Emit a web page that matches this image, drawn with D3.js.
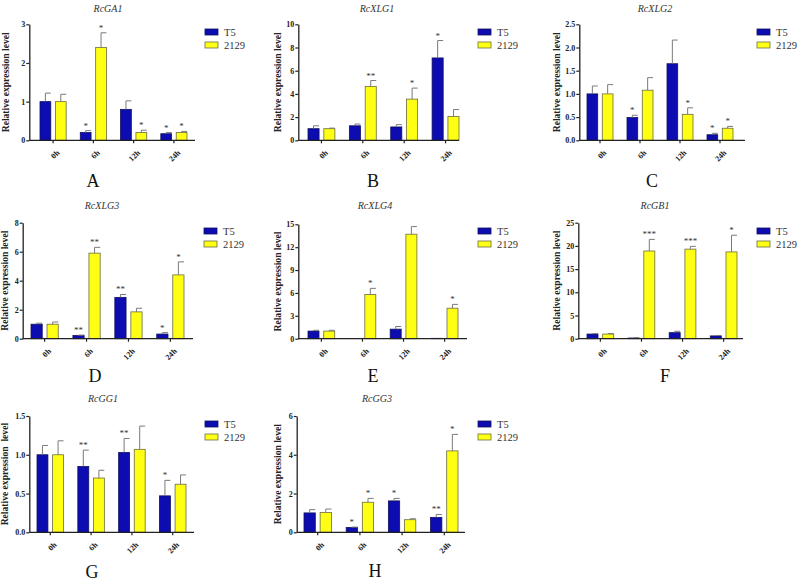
<!DOCTYPE html>
<html><head><meta charset="utf-8">
<script src="https://cdn.jsdelivr.net/npm/d3@7"></script>
<style>body{margin:0;background:#fff} svg{display:block}</style>
</head><body><svg id="c" width="798" height="581"></svg>
<script>
const times = ["0h","6h","12h","24h"];
const series = ["T5","2129"];
const genes = ["RcGA1","RcXLG1","RcXLG2","RcXLG3","RcXLG4","RcGB1","RcGG1","RcGG3"];
const letters = ["A","B","C","D","E","F","G","H"];
const t5Mean = [[1.0,0.2,0.8,0.17],[1.0,1.25,1.15,7.1],[1.0,0.49,1.65,0.12],[1.0,0.22,2.85,0.32],[1.0,0,1.25,0.05],[1.0,0.15,1.3,0.6],[1.0,0.85,1.03,0.47],[1.0,0.25,1.62,0.77]];
const t5Err = [[0.22,0.05,0.22,0.03],[0.25,0.15,0.2,1.5],[0.17,0.05,0.51,0.03],[0.07,0.03,0.2,0.1],[0.1,0,0.35,0],[0.1,0.05,0.3,0.1],[0.12,0.21,0.18,0.2],[0.17,0.02,0.13,0.15]];
const g2129Mean = [[1.0,2.4,0.2,0.2],[1.0,4.65,3.55,2.05],[1.0,1.08,0.56,0.26],[1.0,5.9,1.85,4.4],[1.0,5.8,13.7,4.0],[1.0,18.9,19.3,18.7],[1.0,0.7,1.07,0.62],[1.02,1.55,0.65,4.2]];
const g2129Err = [[0.19,0.38,0.06,0.03],[0.05,0.5,0.95,0.6],[0.2,0.27,0.14,0.04],[0.15,0.4,0.25,0.9],[0.1,0.8,1.0,0.5],[0.1,2.5,0.6,3.6],[0.18,0.1,0.3,0.12],[0.18,0.2,0.05,0.85]];
const t5Sig = [["","*","","*"],["","","","*"],["","*","","*"],["","**","**","*"],["","","",""],["","","",""],["","**","**","*"],["","*","*","**"]];
const g2129Sig = [["","*","*","*"],["","**","*",""],["","","*","*"],["","**","","*"],["","*","","*"],["","***","***","*"],["","","",""],["","*","","*"]];
const yTicks = [[0,1,2,3],[0,2,4,6,8,10],[0,0.5,1,1.5,2,2.5],[0,2,4,6,8],[0,3,6,9,12,15],[0,5,10,15,20,25],[0,0.5,1,1.5],[0,2,4,6]];
const yFormats = ["d","d",".1f","d","d","d",".1f","d"];
const yLabels = ["Relative expression level","Relative expression level","Relative expression level","Relative expression level","Relative expression level","Relative expression level","Relative expression  level","Relative expression level"];

// layout (positions only)
const layout = [
 {ax:29.3, axEnd:195, yTop:24.3, yBot:140.3, bL:40, bR:187, tX:108, tY:12, legX:205, legY:29, ylX:9, letX:93, letY:187},
 {ax:298.3, axEnd:459, yTop:24.3, yBot:140.3, bL:308, bR:459, tX:377, tY:12, legX:478, legY:29, ylX:281, letX:373, letY:187},
 {ax:579.3, axEnd:745, yTop:24.3, yBot:140.3, bL:587, bR:733, tX:655, tY:12, legX:757, legY:29, ylX:560, letX:652, letY:187},
 {ax:22.7, axEnd:193, yTop:222.7, yBot:338.7, bL:31, bR:184, tX:102, tY:209, legX:204, legY:228, ylX:8, letX:95, letY:382},
 {ax:298.3, axEnd:467, yTop:224.3, yBot:338.7, bL:308, bR:458, tX:375, tY:209, legX:478, legY:228, ylX:281, letX:373, letY:382},
 {ax:578.3, axEnd:743, yTop:222.7, yBot:338.7, bL:587, bR:737, tX:655, tY:209, legX:757, legY:228, ylX:560, letX:665, letY:382},
 {ax:29.3, axEnd:194, yTop:416, yBot:532.3, bL:37, bR:186, tX:103, tY:402, legX:205, legY:421, ylX:8, letX:92, letY:578},
 {ax:296.7, axEnd:465, yTop:416, yBot:532.3, bL:304, bR:458, tX:377, tY:402, legX:478, legY:421, ylX:281, letX:375, letY:577}
];

const colors = {"T5":"#0c0cb0","2129":"#ffff14"};
const strokes = {"T5":"#101060","2129":"#6b6b40"};
const serif = "'Liberation Serif','Times New Roman',serif";
const svg = d3.select("#c");

genes.forEach((g, i) => {
  const L = layout[i];
  const gEl = svg.append("g");
  const ticks = yTicks[i];
  const y = d3.scaleLinear().domain([0, ticks[ticks.length-1]]).range([L.yBot, L.yTop]);
  const x0 = d3.scaleBand().domain(times).range([L.bL, L.bR]).paddingInner(0.35).paddingOuter(0);
  const x1 = d3.scaleBand().domain(series).range([0, x0.bandwidth()]).paddingInner(0.3);

  const rows = [];
  times.forEach((t, j) => {
    rows.push({t, s:"T5", v:t5Mean[i][j], e:t5Err[i][j], sig:t5Sig[i][j]});
    rows.push({t, s:"2129", v:g2129Mean[i][j], e:g2129Err[i][j], sig:g2129Sig[i][j]});
  });

  gEl.selectAll("rect.bar").data(rows).join("rect")
    .attr("x", d => x0(d.t) + x1(d.s))
    .attr("y", d => y(d.v))
    .attr("width", x1.bandwidth())
    .attr("height", d => Math.max(0, y(0) - y(d.v)))
    .attr("fill", d => colors[d.s])
    .attr("stroke", d => strokes[d.s])
    .attr("stroke-width", 0.8);

  const eb = gEl.selectAll("g.err").data(rows.filter(d => d.e > 0)).join("g");
  eb.append("line")
    .attr("x1", d => x0(d.t) + x1(d.s) + x1.bandwidth()/2)
    .attr("x2", d => x0(d.t) + x1(d.s) + x1.bandwidth()/2)
    .attr("y1", d => y(d.v)).attr("y2", d => y(d.v + d.e))
    .attr("stroke", "#7a7a7a").attr("stroke-width", 1);
  eb.append("line")
    .attr("x1", d => x0(d.t) + x1(d.s) + x1.bandwidth()/2)
    .attr("x2", d => x0(d.t) + x1(d.s) + x1.bandwidth())
    .attr("y1", d => y(d.v + d.e)).attr("y2", d => y(d.v + d.e))
    .attr("stroke", "#7a7a7a").attr("stroke-width", 1);

  gEl.selectAll("text.sig").data(rows.filter(d => d.sig)).join("text")
    .attr("x", d => x0(d.t) + x1(d.s) + x1.bandwidth()/2)
    .attr("y", d => y(d.v + d.e) - 2)
    .attr("text-anchor", "middle")
    .attr("font-family", serif).attr("font-size", 9).attr("fill", "#333")
    .text(d => d.sig);

  const yAxis = d3.axisLeft(y).tickValues(ticks).tickFormat(d3.format(yFormats[i])).tickSize(3).tickSizeOuter(0);
  const ya = gEl.append("g").attr("transform", `translate(${L.ax},0)`).call(yAxis);
  ya.select(".domain").attr("stroke", "#222").attr("stroke-width", 1.3);
  ya.selectAll(".tick line").attr("stroke", "#222").attr("stroke-width", 1.2);
  ya.selectAll("text").attr("font-family", serif).attr("font-weight", "bold").attr("font-size", 8).attr("fill", "#222").attr("x", -4);

  const xa = gEl.append("g").attr("transform", `translate(0,${L.yBot})`);
  xa.append("line").attr("x1", L.ax).attr("x2", L.axEnd).attr("y1", 0).attr("y2", 0)
    .attr("stroke", "#222").attr("stroke-width", 1.3);
  const xt = xa.selectAll("g.xt").data(times).join("g")
    .attr("transform", t => `translate(${x0(t) + x0.bandwidth()/2},0)`);
  xt.append("line").attr("y1", 0).attr("y2", 3).attr("stroke", "#222").attr("stroke-width", 1.2);
  xt.append("text")
    .attr("transform", "translate(3,9) rotate(-45)")
    .attr("text-anchor", "end").attr("dy", "0.7em")
    .attr("font-family", serif).attr("font-weight", "bold").attr("font-size", 8).attr("fill", "#222")
    .text(t => t);

  gEl.append("text")
    .attr("transform", `translate(${L.ylX},${(L.yTop + L.yBot)/2}) rotate(-90)`)
    .attr("text-anchor", "middle")
    .attr("font-family", serif).attr("font-weight", "bold").attr("font-size", 9.6).attr("fill", "#222")
    .style("white-space", "pre")
    .text(yLabels[i]);

  gEl.append("text").attr("x", L.tX).attr("y", L.tY).attr("text-anchor", "middle")
    .attr("font-family", serif).attr("font-style", "italic").attr("font-size", 10).attr("fill", "#333")
    .text(g);

  const lg = gEl.append("g").attr("transform", `translate(${L.legX},${L.legY})`);
  series.forEach((s, k) => {
    lg.append("rect").attr("x", 0).attr("y", k*13).attr("width", 13).attr("height", 6)
      .attr("fill", colors[s]).attr("stroke", strokes[s]).attr("stroke-width", 0.8);
    lg.append("text").attr("x", 19).attr("y", k*13 + 6.5).attr("font-family", serif)
      .attr("font-size", 10.5).attr("fill", "#333").text(s);
  });

  gEl.append("text").attr("x", L.letX).attr("y", L.letY).attr("text-anchor", "middle")
    .attr("font-family", serif).attr("font-size", 18).attr("fill", "#111")
    .text(letters[i]);
});
</script></body></html>
